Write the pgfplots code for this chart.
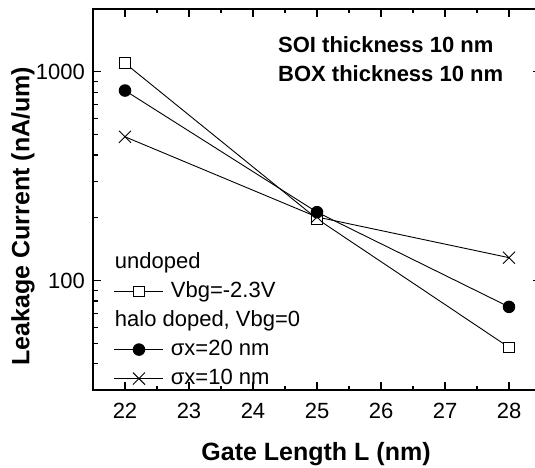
\documentclass[border=0pt]{standalone}
\usepackage{pgfplots}
\pgfplotsset{compat=1.18}
\usepackage{fontspec}
\setmainfont{Liberation Sans}
\begin{document}
\begin{tikzpicture}[x=1pt,y=1pt]
\useasboundingbox (0,0) rectangle (535,467);
\clip (0,0) rectangle (535,467);
\begin{axis}[
  at={(93pt,77pt)}, anchor=south west, scale only axis,
  width=448pt, height=381pt,
  xmin=21.5, xmax=28.5, ymode=log, ymin=30, ymax=2000,
  xtick={22,23,24,25,26,27,28}, minor x tick num=1,
  ytick={100,1000}, yticklabels={100,1000},
  minor ytick={30,40,50,60,70,80,90,200,300,400,500,600,700,800,900,2000},
  tick align=inside,
  major tick length=8pt, minor tick length=4.5pt,
  axis line style={line width=1.6pt},
  every tick/.style={black, line width=1.2pt},
  /pgf/number format/assume math mode=true,
  tick label style={font=\fontsize{22}{26}\selectfont, inner sep=0pt},
  xticklabel style={anchor=north, yshift=-13pt},
  yticklabel style={anchor=east, xshift=-8pt},
  legend cell align=left,
  legend style={draw=none, fill=none, inner sep=0pt, outer sep=0pt,
    at={(0.0469,0.362)}, anchor=north west,
    row sep=8pt, column sep=7pt,
    font=\fontsize{22}{26}\selectfont,
    nodes={inner sep=0pt, text height=16pt, text depth=5pt}},
  legend image code/.code={\draw[mark repeat=2,mark phase=2] plot coordinates {(0pt,0pt) (24.5pt,0pt) (49pt,0pt)};},
]
\addlegendimage{empty legend}
\addlegendentry{\hspace*{-56pt}undoped}
\addplot[black, line width=0.9pt, mark=square*, mark size=5.3pt, mark options={fill=white, line width=0.9pt}]
  coordinates {(22,1100) (25,198) (28,48)};
\addlegendentry{Vbg=-2.3V}
\addlegendimage{empty legend}
\addlegendentry{\hspace*{-56pt}halo doped, Vbg=0}
\addplot[black, line width=0.9pt, mark=*, mark size=5.8pt, mark options={fill=black}]
  coordinates {(22,814) (25,213) (28,75)};
\addlegendentry{σx=20 nm}
\addplot[black, line width=0.9pt, mark=x, mark size=8.5pt, mark options={line width=0.9pt}]
  coordinates {(22,489) (25,202) (28,129)};
\addlegendentry{σx=10 nm}
\end{axis}
\node[rotate=90, inner sep=0pt, font=\bfseries\fontsize{25}{30}\selectfont] at (23,251) {Leakage Current (nA/um)};
\node[anchor=base, inner sep=0pt, font=\bfseries\fontsize{25}{30}\selectfont] at (316,7) {Gate Length L (nm)};
\node[anchor=base west, inner sep=0pt, font=\bfseries\fontsize{22}{26}\selectfont] at (278,414) {SOI thickness 10 nm};
\node[anchor=base west, inner sep=0pt, font=\bfseries\fontsize{22}{26}\selectfont] at (278,385) {BOX thickness 10 nm};
\end{tikzpicture}
\end{document}
